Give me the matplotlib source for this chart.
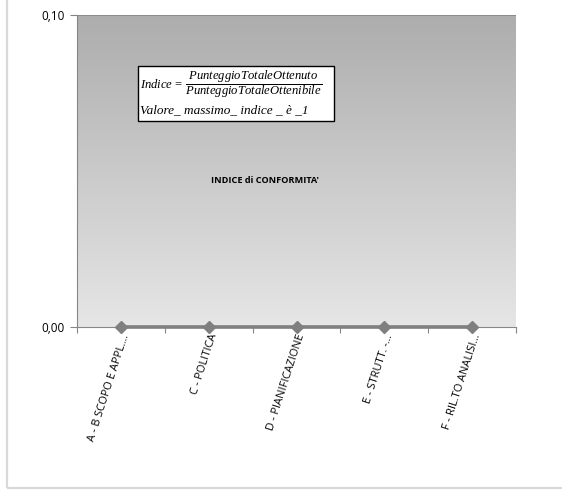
import numpy as np
import matplotlib
matplotlib.use("Agg")
import matplotlib.pyplot as plt
from matplotlib.patches import Rectangle
from matplotlib.ticker import FuncFormatter

categorie = ["A - B SCOPO E APPL....", "C - POLITICA", "D - PIANIFICAZIONE",
             "E - STRUTT. -...", "F - RIL.TO ANALISI..."]
indice = [0, 0, 0, 0, 0]
y_ticks = [0.0, 0.10]

plt.rcParams['font.family'] = ['Open Sans', 'DejaVu Sans']
plt.rcParams['mathtext.fontset'] = 'custom'
plt.rcParams['mathtext.it'] = 'Liberation Serif:italic'
plt.rcParams['mathtext.rm'] = 'Liberation Serif'

fig = plt.figure(figsize=(5.62, 4.90), dpi=100)
ax = fig.add_axes([77/562, 1 - 327/490, 439/562, 312/490])

# cornice esterna del grafico
fig.patches.append(Rectangle((7/562, 2/490), 1.2, 1.2, transform=fig.transFigure,
                             fill=False, edgecolor='#d9d9d9', lw=1.6, zorder=0))

# sfondo sfumato dell'area del tracciato
grad = np.linspace(0, 1, 256).reshape(-1, 1)
ax.imshow(grad, cmap=matplotlib.colors.LinearSegmentedColormap.from_list(
    'g', ['#e6e6e6', '#adadad']), extent=[0, 1, 0, 1], transform=ax.transAxes,
    aspect='auto', origin='lower', zorder=0)

x = np.arange(len(categorie))
ax.plot(x, indice, color='#7f7f7f', lw=2.6, marker='D', ms=6.5, zorder=3, clip_on=False)

ax.set_xlim(-0.5, len(categorie) - 0.5)
ax.set_ylim(0, 0.10)
ax.set_yticks(y_ticks)
ax.yaxis.set_major_formatter(FuncFormatter(lambda v, p: f"{v:.2f}".replace('.', ',')))
ax.set_xticks(np.arange(len(categorie) + 1) - 0.5, minor=False)
ax.set_xticklabels([])
ax.set_xticks(x, minor=True)
ax.set_xticklabels(categorie, minor=True, rotation=72, ha='right', va='top',
                   rotation_mode='anchor', fontsize=7.9)
ax.tick_params(axis='x', which='minor', length=0, pad=4)
ax.tick_params(axis='x', which='major', length=4, color='#868686', direction='out')
ax.tick_params(axis='y', length=5, color='#868686', labelsize=8.5, pad=4)
ax.axhline(0.10, color='#868686', lw=1.2, zorder=2)

for s in ['top', 'right']:
    ax.spines[s].set_visible(False)
ax.spines['left'].set_color('#868686')
ax.spines['bottom'].set_color('#868686')

# riquadro con la formula dell'indice
ax.add_patch(Rectangle((0.139, 0.660), 0.446, 0.177, transform=ax.transAxes,
                       facecolor='white', edgecolor='black', lw=1.0, zorder=4))
ax.text(0.144, 0.778,
        r'$Indice\,=\,\dfrac{PunteggioTotaleOttenuto}{PunteggioTotaleOttenibile}$',
        transform=ax.transAxes, fontsize=9.1, va='center', ha='left', zorder=5)
ax.text(0.144, 0.696, 'Valore_ massimo_ indice _ è _1', family='Liberation Serif',
        style='italic', transform=ax.transAxes, fontsize=9.5, va='center', ha='left', zorder=5)

ax.text(0.428, 0.468, "INDICE di CONFORMITA'", transform=ax.transAxes, fontsize=6.6,
        fontweight='bold', ha='center', va='center', zorder=5)

fig.savefig('out.png', dpi=100)
